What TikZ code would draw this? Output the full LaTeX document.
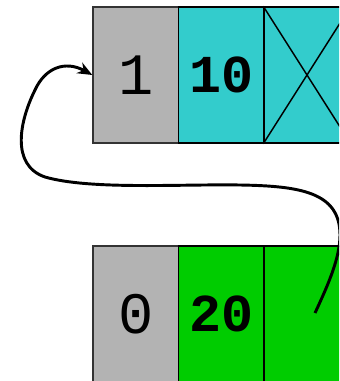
\documentclass[tikz,border=0pt]{standalone}
\usepackage{fontspec}
\setmonofont{Liberation Mono}
\usetikzlibrary{arrows.meta}
\definecolor{cellKey}{HTML}{B3B3B3}
\definecolor{cellTop}{HTML}{33CCCC}
\definecolor{cellBot}{HTML}{00CC00}
\tikzset{
  cellBox/.style={
    draw=black,
    line width=1.1pt,
    minimum width=64.5pt,
    minimum height=102pt,
    inner sep=0pt
  },
  keyBox/.style={cellBox, fill=cellKey, draw=black!80, font=\ttfamily\fontsize{44}{44}\selectfont},
  valBox/.style={cellBox, font=\ttfamily\bfseries\fontsize{40}{40}\selectfont},
  linkArrow/.style={-{Stealth[length=11pt,width=9pt]}, line width=2.2pt, black}
}
\begin{document}
\begin{tikzpicture}[x=0.75pt,y=-0.75pt]
  \useasboundingbox (0,0) rectangle (339,381);
  \clip (0,0) rectangle (339,381);
  % top record
  \node[keyBox] (key1) at (136,75) {1};
  \node[valBox, fill=cellTop] (val1) at (221.5,75) {10};
  \node[cellBox, fill=cellTop] (ptr1) at (307,75) {};
  \draw[line width=1.1pt] (ptr1.north west) -- (ptr1.south east)
    (ptr1.south west) -- (ptr1.north east);
  % bottom record
  \node[keyBox] (key2) at (136,314) {0};
  \node[valBox, fill=cellBot] (val2) at (221.5,314) {20};
  \node[cellBox, fill=cellBot] (ptr2) at (307,314) {};
  \coordinate (p2) at (315,313);
  \draw[linkArrow] (p2) .. controls (328,285) and (340,258) .. (340,235)
    .. controls (340,192) and (300,186) .. (240,185)
    .. controls (180,184) and (90,190) .. (45,177)
    .. controls (10,165) and (20,120) .. (35,90)
    .. controls (45,68) and (65,60) .. (key1.west);
\end{tikzpicture}
\end{document}
